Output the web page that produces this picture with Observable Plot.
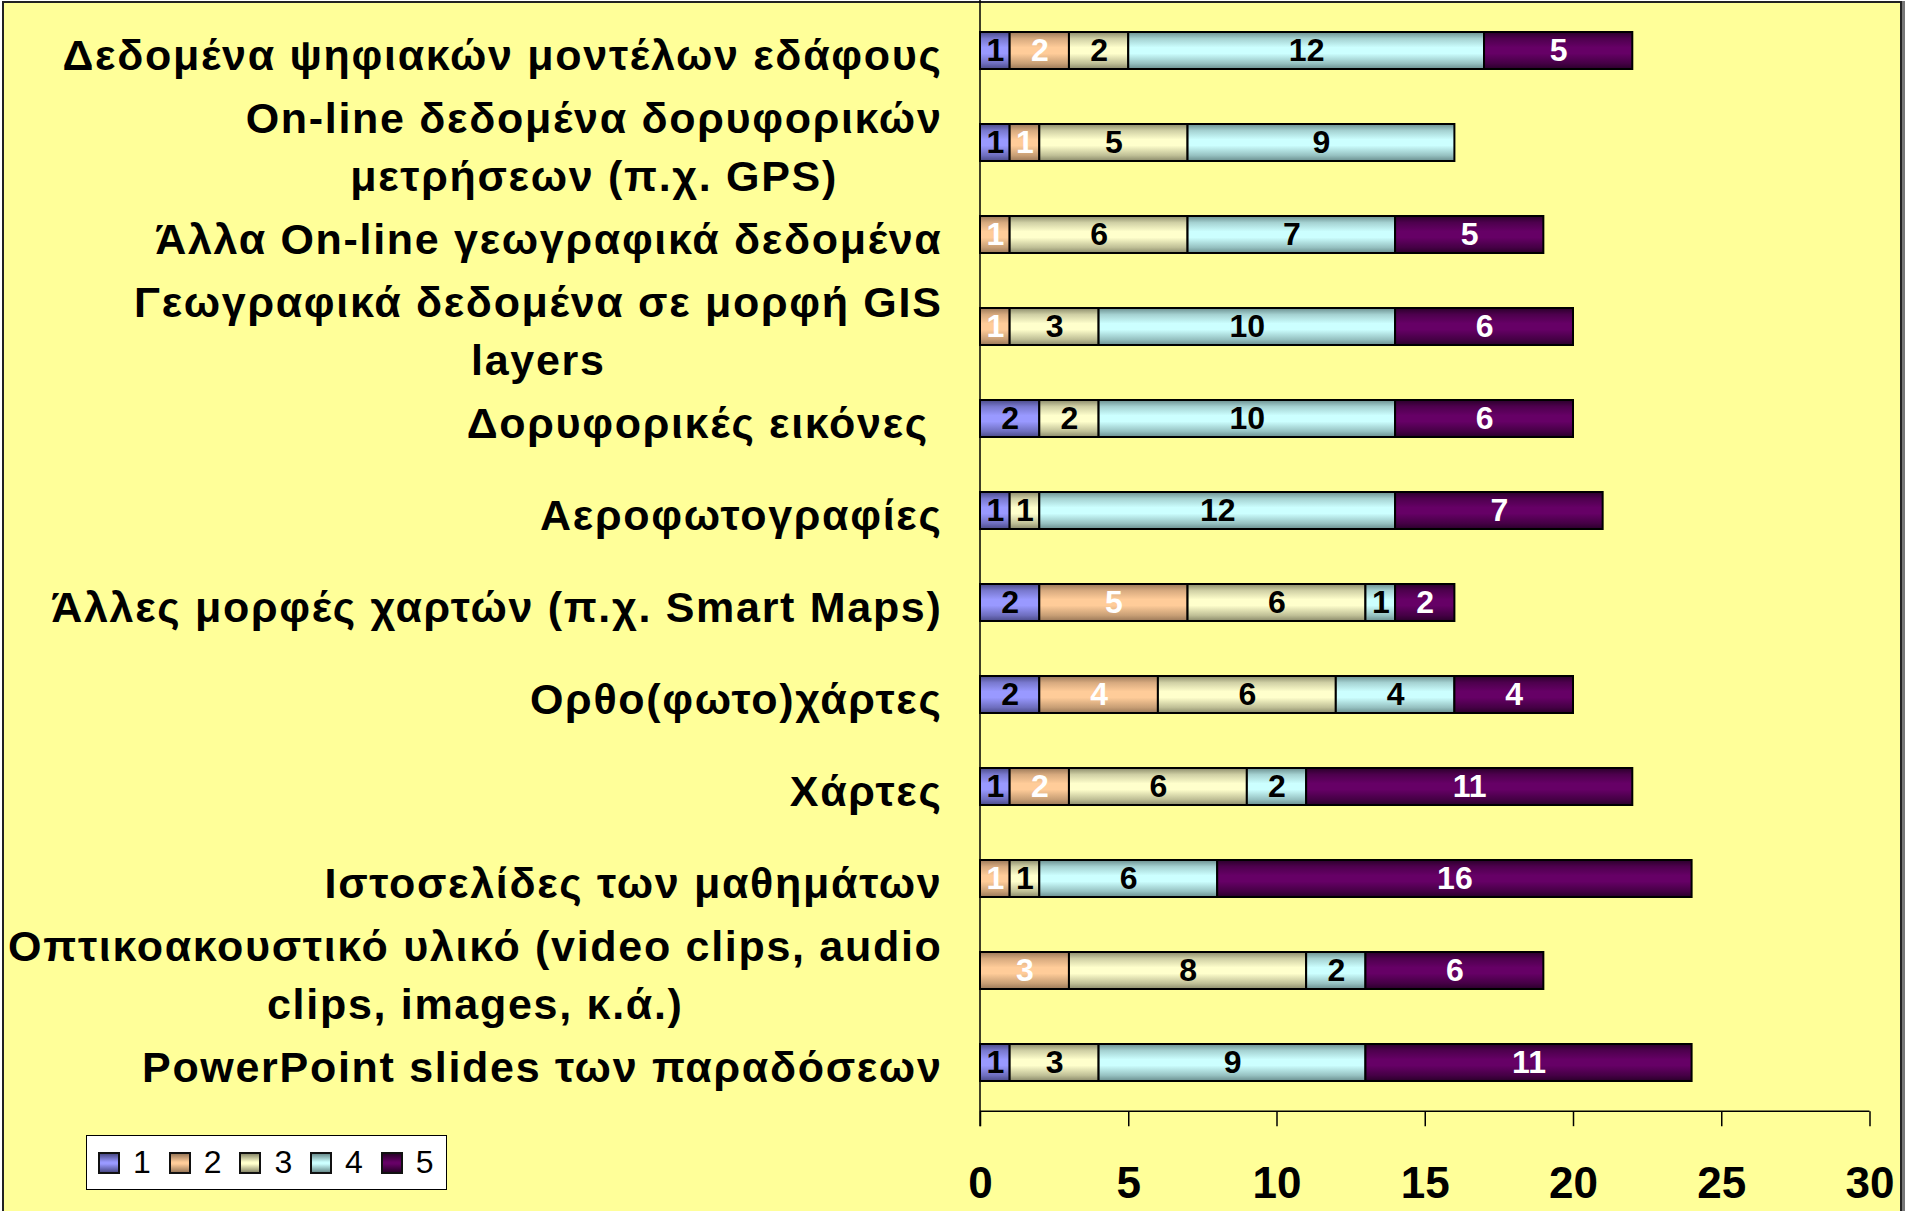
<!DOCTYPE html>
<html>
<head>
<meta charset="utf-8">
<script src="https://cdn.jsdelivr.net/npm/d3@7"></script>
<script src="https://cdn.jsdelivr.net/npm/@observablehq/plot@0.6"></script>
<style>
  html, body { margin: 0; padding: 0; background: #ffffff; }
  #wrap { position: relative; width: 1910px; height: 1211px; overflow: hidden; }
  #bg { position: absolute; left: 2px; top: 1px; width: 1896px; height: 1240px;
        background: #FFFF99; border: 2px solid #222; box-shadow: 3px 0 0 #777; }
  #chart { position: absolute; left: 0; top: 0; }
  #chart svg text { white-space: pre; }
  #chart svg g[aria-label="y-axis tick label"] text { letter-spacing: 1.7px; }
  #legend { position: absolute; left: 86px; top: 1135px; width: 359px; height: 53px;
            background: #fff; border: 1px solid #000; font-family: "Liberation Sans", Arial, sans-serif; }
  .item { position: absolute; top: 0; height: 53px; display: flex; align-items: center; }
  .sw { width: 18px; height: 18px; border: 2px solid #111; margin-right: 13px; }
  .lab { font-size: 32px; color: #000; }
</style>
</head>
<body>
<div id="wrap">
  <div id="bg"></div>
  <div id="chart"></div>
  <div id="legend"></div>
</div>
<script>
// ---- data ----
const categories = [
  "Δεδομένα ψηφιακών μοντέλων εδάφους",
  "On-line δεδομένα δορυφορικών\nμετρήσεων (π.χ. GPS)",
  "Άλλα On-line γεωγραφικά δεδομένα",
  "Γεωγραφικά δεδομένα σε μορφή GIS\nlayers",
  "Δορυφορικές εικόνες ",
  "Αεροφωτογραφίες",
  "Άλλες μορφές χαρτών (π.χ. Smart Maps)",
  "Ορθο(φωτο)χάρτες",
  "Χάρτες",
  "Ιστοσελίδες των μαθημάτων",
  "Οπτικοακουστικό υλικό (video clips, audio\nclips, images, κ.ά.)",
  "PowerPoint slides των παραδόσεων"
];
const seriesNames = ["1", "2", "3", "4", "5"];
const s1 = [1, 1, 0, 0, 2, 1, 2, 2, 1, 0, 0, 1];
const s2 = [2, 1, 1, 1, 0, 0, 5, 4, 2, 1, 3, 0];
const s3 = [2, 5, 6, 3, 2, 1, 6, 6, 6, 1, 8, 3];
const s4 = [12, 9, 7, 10, 10, 12, 1, 4, 2, 6, 2, 9];
const s5 = [5, 0, 5, 6, 6, 7, 2, 4, 11, 16, 6, 11];
const xTicks = [0, 5, 10, 15, 20, 25, 30];

// ---- styles ----
const baseColors = ["#9999FF", "#FFCC99", "#FFFFCC", "#CCFFFF", "#660066"];
const edgeColors = ["#4a4a88", "#9a7858", "#8a8a6a", "#6a8e8e", "#2a002a"];
const whiteText = ["2", "5"];

const seriesValues = [s1, s2, s3, s4, s5];
const rows = [];
categories.forEach((c, i) => {
  seriesNames.forEach((s, j) => {
    const v = seriesValues[j][i];
    if (v > 0) rows.push({cat: c, series: s, value: v});
  });
});

function gradientDefs() {
  const g = d3.create("svg:g");
  const defs = g.append("defs");
  baseColors.forEach((c, i) => {
    const lg = defs.append("linearGradient").attr("id", "g" + (i + 1))
      .attr("x1", 0).attr("y1", 0).attr("x2", 0).attr("y2", 1);
    const e = edgeColors[i];
    const mid = d3.interpolateRgb(e, c);
    lg.append("stop").attr("offset", "0%").attr("stop-color", e);
    lg.append("stop").attr("offset", "18%").attr("stop-color", mid(0.6));
    lg.append("stop").attr("offset", "42%").attr("stop-color", c);
    lg.append("stop").attr("offset", "58%").attr("stop-color", c);
    lg.append("stop").attr("offset", "85%").attr("stop-color", mid(0.45));
    lg.append("stop").attr("offset", "100%").attr("stop-color", e);
  });
  return g.node();
}

function axisLines(index, scales, values, dims) {
  const g = d3.create("svg:g").attr("stroke", "#000").attr("stroke-width", 1.5);
  const x0 = dims.marginLeft, x1 = dims.width - dims.marginRight;
  const yb = dims.height - dims.marginBottom;
  g.append("line").attr("x1", x0).attr("x2", x1).attr("y1", yb).attr("y2", yb);
  g.append("line").attr("x1", x0).attr("x2", x0).attr("y1", 0).attr("y2", yb + 15);
  return g.node();
}

const chart = Plot.plot({
  width: 1910,
  height: 1211,
  marginLeft: 980,
  marginRight: 40.5,
  marginTop: 1.8,
  marginBottom: 99.8,
  style: {fontFamily: "'Liberation Sans', Arial, sans-serif", background: "transparent", overflow: "visible", color: "#000"},
  x: {domain: [0, 30]},
  y: {domain: categories, paddingInner: 0.595, paddingOuter: 0.2975},
  color: {domain: seriesNames, range: seriesNames.map((s, i) => `url(#g${i + 1})`)},
  marks: [
    gradientDefs,
    Plot.barX(rows, Plot.stackX({y: "cat", x: "value", fill: "series", stroke: "#000", strokeWidth: 2})),
    Plot.text(rows, Plot.filter(d => !whiteText.includes(d.series),
      Plot.stackX({y: "cat", x: "value", text: "value", fill: "#000", fontSize: 32, fontWeight: "bold"}))),
    Plot.text(rows, Plot.filter(d => whiteText.includes(d.series),
      Plot.stackX({y: "cat", x: "value", text: "value", fill: "#fff", fontSize: 32, fontWeight: "bold"}))),
    axisLines,
    Plot.axisX({ticks: xTicks, tickSize: 15, tickPadding: 40, fontSize: 44, fontWeight: "bold", label: null, stroke: "#000", strokeWidth: 1.5}),
    Plot.axisY({tickSize: 0, tickPadding: 38, fontSize: 43, fontWeight: "bold", lineHeight: 1.35, label: null, tickFormat: d => d})
  ]
});
document.getElementById("chart").appendChild(chart);

// center multi-line labels within their block (right edge stays aligned)
d3.select(chart).selectAll('g[aria-label="y-axis tick label"] text').each(function() {
  const t = d3.select(this);
  if (t.selectAll("tspan").size() > 1) {
    const w = this.getBBox().width;
    t.attr("text-anchor", "middle");
    t.attr("transform", (t.attr("transform") || "") + ` translate(${-w / 2},0)`);
  }
});

// legend
const legend = d3.select("#legend");
seriesNames.forEach((s, i) => {
  const it = legend.append("div").attr("class", "item").style("left", (11 + i * 70.7) + "px");
  it.append("div").attr("class", "sw")
    .style("background", `linear-gradient(${edgeColors[i]}, ${baseColors[i]} 45%, ${baseColors[i]} 55%, ${edgeColors[i]})`);
  it.append("span").attr("class", "lab").text(s);
});
</script>
</body>
</html>
